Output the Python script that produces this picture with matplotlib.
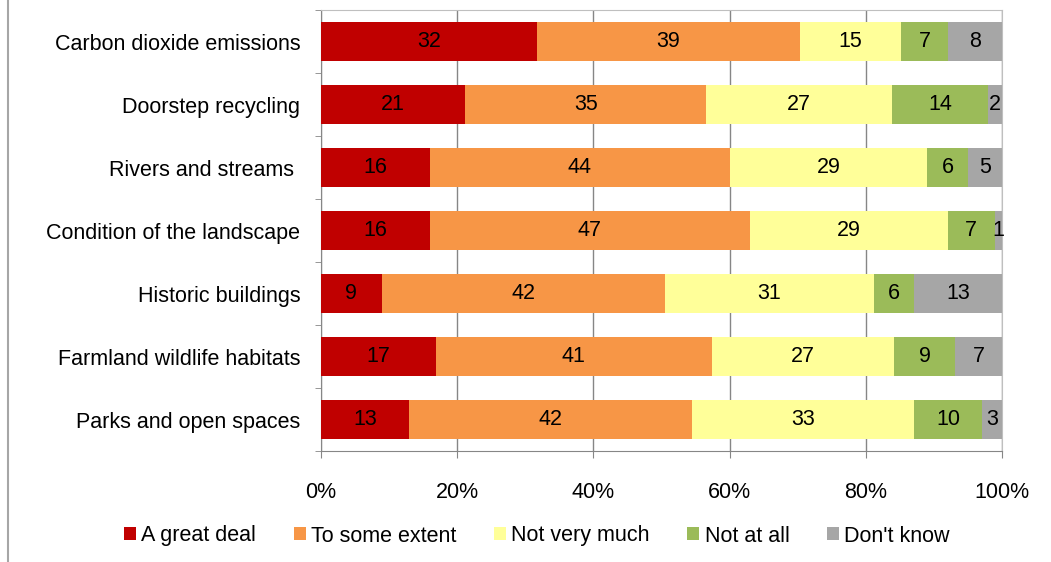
import numpy as np
import matplotlib
matplotlib.use("Agg")
import matplotlib.pyplot as plt
from matplotlib.lines import Line2D

# === Data ===
categories = [
    "Carbon dioxide emissions",
    "Doorstep recycling",
    "Rivers and streams ",
    "Condition of the landscape",
    "Historic buildings",
    "Farmland wildlife habitats",
    "Parks and open spaces",
]
great_deal = [32, 21, 16, 16, 9, 17, 13]
some_extent = [39, 35, 44, 47, 42, 41, 42]
not_very_much = [15, 27, 29, 29, 31, 27, 33]
not_at_all = [7, 14, 6, 7, 6, 9, 10]
dont_know = [8, 2, 5, 1, 13, 7, 3]

series_names = ["A great deal", "To some extent", "Not very much", "Not at all", "Don't know"]
colors = ["#C00000", "#F79646", "#FFFF99", "#9BBB59", "#A6A6A6"]

plt.rcParams["font.family"] = ["Liberation Sans", "DejaVu Sans"]
FS = 15.5

# === Normalise to 100% ===
vals = np.array([great_deal, some_extent, not_very_much, not_at_all, dont_know], dtype=float)
pct = vals / vals.sum(axis=0) * 100

fig = plt.figure(figsize=(10.51, 5.62), dpi=100)
ax = fig.add_axes([321 / 1051, 1 - 451 / 562, (1002 - 321) / 1051, (451 - 10) / 562])

y = np.arange(len(categories))
left = np.zeros(len(categories))
for i in range(len(series_names)):
    ax.barh(y, pct[i], left=left, height=0.62, color=colors[i], label=series_names[i],
            zorder=3, edgecolor="none")
    for j in range(len(categories)):
        ax.text(left[j] + pct[i][j] / 2, y[j], f"{int(vals[i][j])}", ha="center", va="center",
                fontsize=FS, color="black", zorder=4)
    left += pct[i]

ax.set_xlim(0, 100)
ax.set_ylim(len(categories) - 0.5, -0.5)
ax.set_xticks(np.arange(0, 101, 20))
ax.set_xticklabels([f"{v}%" for v in range(0, 101, 20)], fontsize=FS)
ax.set_yticks(y)
ax.set_yticklabels(categories, fontsize=FS)
ax.set_yticks(np.arange(-0.5, len(categories)), minor=True)
ax.tick_params(axis="y", which="major", length=0, pad=15)
ax.tick_params(axis="y", which="minor", length=4, color="#868686")
ax.tick_params(axis="x", length=5, color="#868686", pad=17)
ax.xaxis.grid(True, color="#868686", linewidth=1, zorder=0)
for s in ["top", "right"]:
    ax.spines[s].set_color("#BFBFBF")
for s in ["left", "bottom"]:
    ax.spines[s].set_color("#868686")

fig.legend(*ax.get_legend_handles_labels(), loc="center", bbox_to_anchor=(537 / 1051, 1 - 536 / 562),
           ncol=5, frameon=False, fontsize=FS, handlelength=0.55, handleheight=0.55,
           handletextpad=0.25, columnspacing=1.75)

# chart border on the left
fig.add_artist(Line2D([8 / 1051, 8 / 1051], [0, 1], color="#A6A6A6", linewidth=1.5,
                      transform=fig.transFigure))

fig.savefig("out.png", dpi=100)
